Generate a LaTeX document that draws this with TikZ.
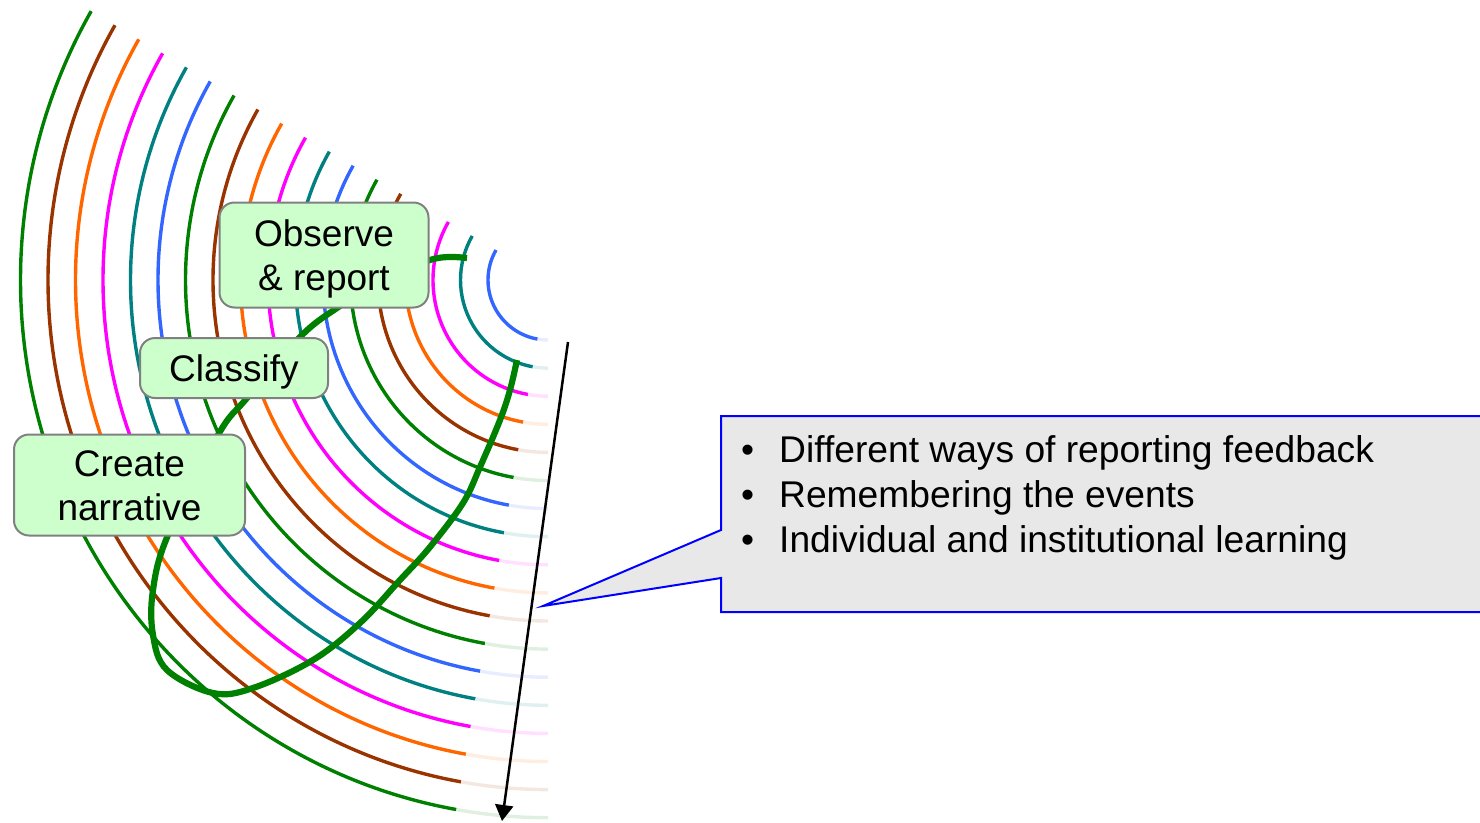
\documentclass[tikz,border=0pt]{standalone}
\usepackage{fontspec}
\setmainfont{Liberation Sans}
\usetikzlibrary{arrows.meta}
\definecolor{arcgreen}{HTML}{008000}
\definecolor{arcbrown}{HTML}{993300}
\definecolor{arcorange}{HTML}{FF6600}
\definecolor{arcmagenta}{HTML}{FF00FF}
\definecolor{arcteal}{HTML}{008080}
\definecolor{arcblue}{HTML}{3366FF}
\definecolor{stagefill}{HTML}{CCFFCC}
\definecolor{stageedge}{HTML}{808080}
\definecolor{notefill}{HTML}{E8E8E8}
\definecolor{noteedge}{HTML}{0000FF}
% centred stage label, lowered a little inside its box
\newcommand\stagetext[1]{\raisebox{-5pt}[\height][\depth]{\begin{tabular}{@{}c@{}}#1\end{tabular}}}

\begin{document}
\begin{tikzpicture}[x=1pt,y=-1pt,
  stagebox/.style={draw=stageedge, line width=2pt, fill=stagefill,
    rounded corners=15pt, inner sep=0pt,
    font=\fontsize{37}{44}\selectfont},
  ring/.style={line width=3.4pt},
  loopline/.style={draw=arcgreen, line width=6.2pt},
  bullettext/.style={anchor=base west, inner sep=0pt,
    font=\fontsize{37.2}{44}\selectfont}
]
\useasboundingbox (0,0) rectangle (1480,822);
\clip (0,0) rectangle (1480,822);

% concentric elliptic rings, innermost first; each ends in a pale tail
\foreach \i/\c in {0/arcblue,1/arcteal,2/arcmagenta,3/arcorange,4/arcbrown,5/arcgreen,
                   6/arcblue,7/arcteal,8/arcmagenta,9/arcorange,10/arcbrown,11/arcgreen,
                   12/arcblue,13/arcteal,14/arcmagenta,15/arcorange,16/arcbrown,17/arcgreen}{
  \pgfmathsetmacro\ra{60+27.5*\i}
  \pgfmathsetmacro\rb{60+28.1*\i}
  \draw[ring, \c] (548,280) ++(150:{\ra pt} and {\rb pt})
    arc[start angle=150, end angle=260, x radius=\ra pt, y radius=\rb pt];
  \draw[ring, \c!12] (548,280) ++(260:{\ra pt} and {\rb pt})
    arc[start angle=260, end angle=270, x radius=\ra pt, y radius=\rb pt];
}

% the green loop running through the three stages
\coordinate (loopstart) at (467,258);
\coordinate (loopend) at (517,360);
\draw[loopline] plot[smooth, tension=0.6] coordinates {
  (loopstart) (449,257) (430,260) (392,274) (337,308) (300,337) (247,398)
  (218,435) (168,535) (153,590) (153,635) (167,670) (213,693) (253,688)
  (313,660) (360,623) (400,580) (430,547) (463,503) (480,467) (500,420)
  (510,390) (loopend)};

% stages
\node[stagebox, minimum width=209pt, minimum height=105pt] (observe) at (324,255)
  {\stagetext{Observe\\\& report}};
\node[stagebox, minimum width=188pt, minimum height=60pt] (classify) at (234,368)
  {\stagetext{Classify}};
\node[stagebox, minimum width=231pt, minimum height=101pt] (narrative) at (129.5,485)
  {\stagetext{Create\\narrative}};

% time arrow
\coordinate (arrtop) at (568,342);
\coordinate (arrtip) at (502,821);
\draw[line width=2.5pt, -{Triangle[width=18pt, length=16pt]}] (arrtop) -- (arrtip);

% callout
\coordinate (notetip) at (543,606);
\draw[fill=notefill, draw=noteedge, line width=2pt]
  (721,416) -- (1500,416) -- (1500,612) -- (721,612) -- (721,578)
  -- (notetip) -- (721,530) -- cycle;
\node[bullettext] (item1) at (741,462)
  {\makebox[38pt][l]{\textbullet}Different ways of reporting feedback};
\node[bullettext] (item2) at (741,507)
  {\makebox[38pt][l]{\textbullet}Remembering the events};
\node[bullettext] (item3) at (741,552)
  {\makebox[38pt][l]{\textbullet}Individual and institutional learning};
\end{tikzpicture}
\end{document}
